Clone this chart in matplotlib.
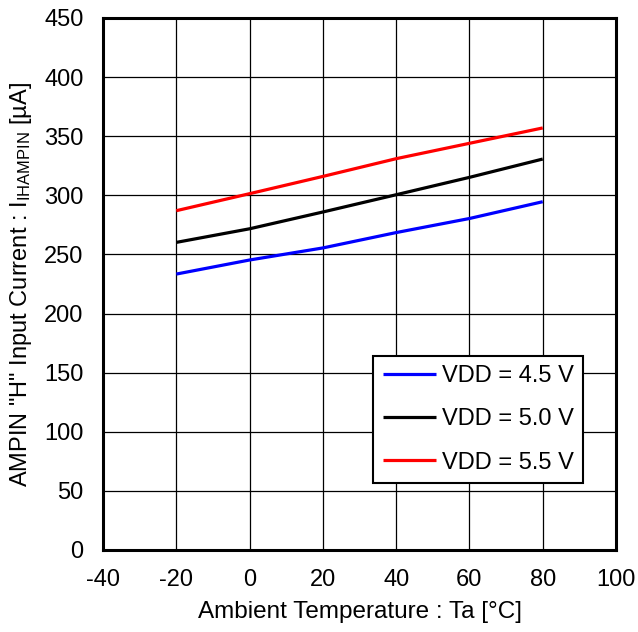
import matplotlib
matplotlib.use("Agg")
import matplotlib.pyplot as plt

plt.rcParams['font.family'] = ['Liberation Sans', 'DejaVu Sans']
plt.rcParams['mathtext.fontset'] = 'custom'
plt.rcParams['mathtext.rm'] = 'Liberation Sans'
plt.rcParams['mathtext.it'] = 'Liberation Sans'
plt.rcParams['axes.unicode_minus'] = False

temps = [-20, 0, 20, 40, 60, 80]
vdd45 = [233.4, 245.3, 255.5, 268.5, 280.4, 294.6]
vdd50 = [260.2, 271.7, 285.9, 300.5, 315.2, 330.7]
vdd55 = [287.0, 301.4, 316.0, 331.0, 344.0, 357.0]
labels = ['VDD = 4.5 V', 'VDD = 5.0 V', 'VDD = 5.5 V']
colors = ['#0000ff', '#000000', '#ff0000']

fig = plt.figure(figsize=(6.38, 6.32), dpi=100)
ax = fig.add_axes([103/638, 82/632, 513/638, 532/632])

for y, lab, c in zip([vdd45, vdd50, vdd55], labels, colors):
    ax.plot(temps, y, color=c, lw=2.3, label=lab, solid_capstyle='butt')

ax.set_xlim(-40, 100)
ax.set_ylim(0, 450)
ax.set_xticks(range(-40, 101, 20))
ax.set_yticks(range(0, 451, 50))
ax.grid(True, color='black', lw=0.9)
ax.set_axisbelow(True)
ax.tick_params(length=0, labelsize=17, pad=14)
for s in ax.spines.values():
    s.set_linewidth(2.2)

ax.set_xlabel('Ambient Temperature : Ta [°C]', fontsize=17.5, labelpad=7)
ax.set_ylabel(r'AMPIN "H" Input Current : I$_{\mathrm{IHAMPIN}}$ [µA]', fontsize=17, labelpad=7)

leg = ax.legend(loc='lower right', bbox_to_anchor=((583 - 103) / 513, (550 - 483) / 532), borderaxespad=0,
                fontsize=17, fancybox=False, framealpha=1, edgecolor='black',
                handlelength=2.25, handletextpad=0.25, labelspacing=0.9, borderpad=0.4)
leg.get_frame().set_linewidth(1.5)

fig.savefig('out.png', dpi=100)
